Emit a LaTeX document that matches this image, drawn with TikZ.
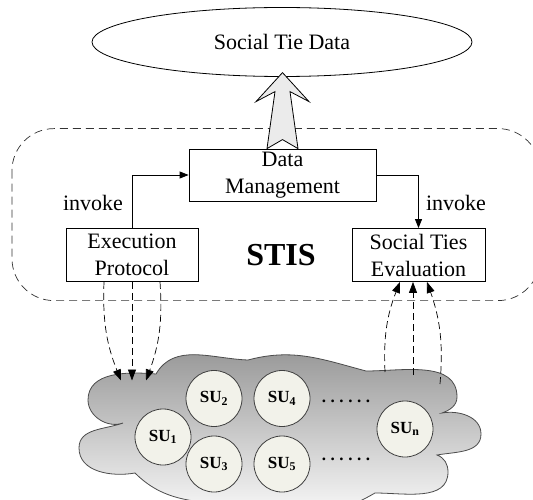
\documentclass[tikz,border=0pt]{standalone}
\usepackage{fontspec}
\setmainfont{Liberation Serif}
\usepackage{xcolor}
\usetikzlibrary{arrows.meta,shapes.geometric,positioning}
\definecolor{sufill}{HTML}{F2F2EA}
\tikzset{blk/.style={draw,line width=0.8pt,minimum width=132pt,minimum height=53pt,inner sep=0pt,align=center,font=\fontsize{22}{27}\selectfont},
  su/.style={circle,draw=black!75,line width=0.8pt,fill=sufill,minimum size=56pt,inner sep=0pt,font=\fontsize{17}{20}\selectfont\bfseries},
  inv/.style={line width=0.8pt,-{Triangle[length=9pt,width=7pt]}},
  dsh/.style={line width=0.7pt,dash pattern=on 7pt off 4pt,-{Triangle[length=11pt,width=8pt]}}}
\newcommand{\SU}[1]{SU\textsubscript{#1}}
\newcommand{\sudots}{.\kern4.6pt.\kern4.6pt.\kern4.6pt.\kern4.6pt.\kern4.6pt.}

\begin{document}
\begin{tikzpicture}[x=1pt,y=-1pt]
\useasboundingbox (0,0) rectangle (533,500); \clip (0,0) rectangle (533,500);
\draw[line width=0.7pt,dash pattern=on 8pt off 5pt,rounded corners=42pt,black!80] (12,128.6) rectangle (540,300.6);
\node[ellipse,draw,line width=0.8pt,minimum width=380pt,minimum height=69pt,font=\fontsize{22}{27}\selectfont] (tie) at (282,42) {Social Tie Data};
\node[blk,minimum width=187pt,minimum height=52pt] (dm) at (282.5,175) {Data\\Management};
\node[blk] (ep) at (132,255) {Execution\\Protocol};
\node[blk,minimum width=133pt] (ste) at (418.5,255) {Social Ties\\Evaluation};
\node[font=\fontsize{32}{36}\selectfont\bfseries] (stis) at (281,255) {STIS};
\node[font=\fontsize{22}{27}\selectfont] (inv1) at (93,203) {invoke}; \node[font=\fontsize{22}{27}\selectfont] (inv2) at (456,203) {invoke};
\draw[inv] (ep.north) |- (dm.west); \draw[inv] (dm.east) -| (ste.north);
\begin{scope}[shift={(dm.north)}]
\draw[line width=0.8pt,fill=black!8,line join=miter] (-15.5,0) -- (0,-9) -- (15.5,0) -- (7.5,-57) -- (26.5,-47) -- (0,-76) -- (-26.5,-47) -- (-7.5,-57) -- cycle;
\end{scope}
% sensor cloud
\shade[draw=black!70,line width=0.8pt,top color=black!42,bottom color=white] (156,374) to[out=60,in=178] (248,360) to[out=15,in=165] (366,371)
  to[out=0,in=90] (457,397) to[out=-90,in=20] (442,413) to[out=10,in=90] (481,434) to[out=-90,in=10] (437,455)
  to[out=-20,in=90] (448,472) to[out=-90,in=0] (375,493) to[out=-150,in=-20] (250,508) to[out=170,in=-45] (135,473)
  to[out=190,in=-90] (79,448) to[out=90,in=200] (123,423) to[out=200,in=-90] (88,400) to[out=90,in=175] cycle;
\node[su] (u1) at (163,437) {\SU1}; \node[su] (u2) at (214,398.5) {\SU2}; \node[su] (u3) at (214,464) {\SU3};
\node[su] (u4) at (282,398.5) {\SU4}; \node[su] (u5) at (282,464) {\SU5}; \node[su] (un) at (405,429) {\SU{n}};
\node[font=\fontsize{17}{20}\selectfont\bfseries] (d1) at (346,401) {\sudots}; \node[font=\fontsize{17}{20}\selectfont\bfseries] (d2) at (346,459) {\sudots};
\coordinate (e1) at (121,380.5); \coordinate (e2) at (132,380.5); \coordinate (e3) at (146,380.5);
\coordinate (s1) at (385,372); \coordinate (s2) at (413,375); \coordinate (s3) at (440,384);
\draw[dsh] ([xshift=-28pt]ep.south) to[bend right=12] (e1); \draw[dsh] (ep.south) -- (e2); \draw[dsh] ([xshift=28pt]ep.south) to[bend left=12] (e3);
\draw[dsh] (s1) to[bend left=12] ([xshift=-18.5pt]ste.south); \draw[dsh] (s2) -- ([xshift=-5.5pt]ste.south); \draw[dsh] (s3) to[bend right=12] ([xshift=8.5pt]ste.south);
\end{tikzpicture}
\end{document}
